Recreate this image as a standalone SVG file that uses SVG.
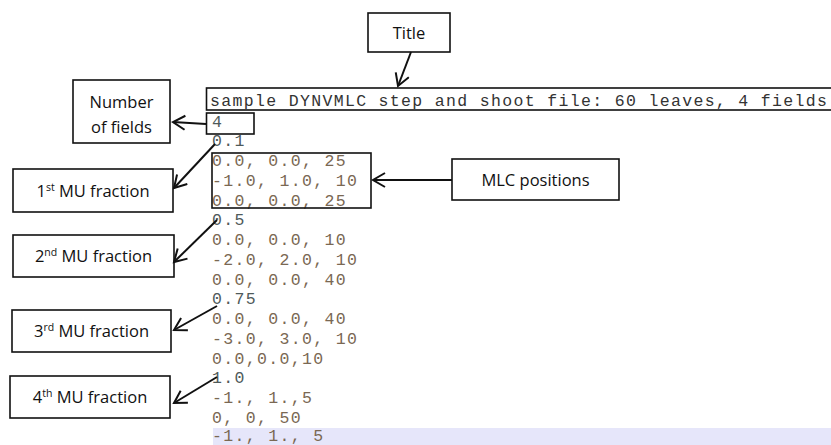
<svg xmlns="http://www.w3.org/2000/svg" width="831" height="445" viewBox="0 0 831 445">
<defs>
<style>
.box{fill:#fff;stroke:#111;stroke-width:1.6}
.tb{fill:none;stroke:#111;stroke-width:1.6}
.lbl{font-family:"Open Sans","Liberation Sans",sans-serif;font-size:16.5px;fill:#111;text-anchor:middle}
.sup{font-size:10.5px}
.code{font-family:"Liberation Mono","Courier New",monospace;font-size:16.5px;letter-spacing:1.34px;fill:#7a6853}
.mu{fill:#4f5a5a}
.ttl{fill:#333}
.conn{stroke:#111;stroke-width:2;fill:none;marker-end:url(#ah)}
</style>
<marker id="ah" markerUnits="userSpaceOnUse" markerWidth="20" markerHeight="20" refX="13" refY="8" orient="auto">
<path d="M1,1 L13,8 L1,15" fill="none" stroke="#111" stroke-width="2"/>
</marker>
</defs>
<rect x="0" y="0" width="831" height="445" fill="#fff"/>
<rect x="213" y="428" width="618" height="17" fill="#e6e6fa"/>
<g id="code">
<rect class="tb" x="206.5" y="88" width="626" height="22"/>
<text class="code ttl" x="210" y="105.5">sample DYNVMLC step and shoot file: 60 leaves, 4 fields</text>
<text class="code mu" x="212" y="126.5">4</text>
<text class="code mu" x="212" y="146.2">0.1</text>
<text class="code" x="212" y="166">0.0, 0.0, 25</text>
<text class="code" x="212" y="185.7">-1.0, 1.0, 10</text>
<text class="code" x="212" y="205.5">0.0, 0.0, 25</text>
<text class="code mu" x="212" y="225.2">0.5</text>
<text class="code" x="212" y="245">0.0, 0.0, 10</text>
<text class="code" x="212" y="264.7">-2.0, 2.0, 10</text>
<text class="code" x="212" y="284.5">0.0, 0.0, 40</text>
<text class="code mu" x="212" y="304.2">0.75</text>
<text class="code" x="212" y="324">0.0, 0.0, 40</text>
<text class="code" x="212" y="343.7">-3.0, 3.0, 10</text>
<text class="code" x="212" y="363.5">0.0,0.0,10</text>
<text class="code mu" x="212" y="383.2">1.0</text>
<text class="code" x="212" y="403">-1., 1.,5</text>
<text class="code" x="212" y="422.7">0, 0, 50</text>
<text class="code" x="212" y="440.5">-1., 1., 5</text>
<rect class="tb" x="206.5" y="113" width="47.5" height="21"/>
<rect class="tb" x="212" y="153" width="159" height="55"/>
</g>
<g id="title">
<rect class="box" x="368" y="13" width="82" height="39"/>
<text class="lbl" x="409" y="38.5">Title</text>
</g>
<g id="num-fields">
<rect class="box" x="73" y="80" width="97" height="63"/>
<text class="lbl" x="121.5" y="107.5">Number</text>
<text class="lbl" x="121.5" y="132.5">of fields</text>
</g>
<g id="mlc-positions">
<rect class="box" x="452" y="159" width="167" height="41"/>
<text class="lbl" x="535.5" y="186">MLC positions</text>
</g>
<g id="mu1">
<rect class="box" x="13" y="169" width="160" height="43"/>
<text class="lbl" x="93" y="196.5">1<tspan class="sup" dy="-6">st</tspan><tspan dy="6"> MU fraction</tspan></text>
</g>
<g id="mu2">
<rect class="box" x="13" y="235" width="161" height="42"/>
<text class="lbl" x="93.5" y="262">2<tspan class="sup" dy="-6">nd</tspan><tspan dy="6"> MU fraction</tspan></text>
</g>
<g id="mu3">
<rect class="box" x="12" y="310" width="159" height="42"/>
<text class="lbl" x="91.5" y="337">3<tspan class="sup" dy="-6">rd</tspan><tspan dy="6"> MU fraction</tspan></text>
</g>
<g id="mu4">
<rect class="box" x="10" y="376" width="160" height="42"/>
<text class="lbl" x="90" y="403">4<tspan class="sup" dy="-6">th</tspan><tspan dy="6"> MU fraction</tspan></text>
</g>
<g id="connectors">
<line class="conn" x1="411" y1="52" x2="398" y2="86"/>
<line class="conn" x1="206" y1="124" x2="173" y2="122"/>
<line class="conn" x1="215" y1="144" x2="174" y2="188"/>
<line class="conn" x1="452" y1="180" x2="373" y2="180"/>
<line class="conn" x1="217" y1="220" x2="174" y2="262"/>
<line class="conn" x1="217" y1="306" x2="174" y2="330"/>
<line class="conn" x1="217" y1="377" x2="174" y2="403"/>
</g>
</svg>
